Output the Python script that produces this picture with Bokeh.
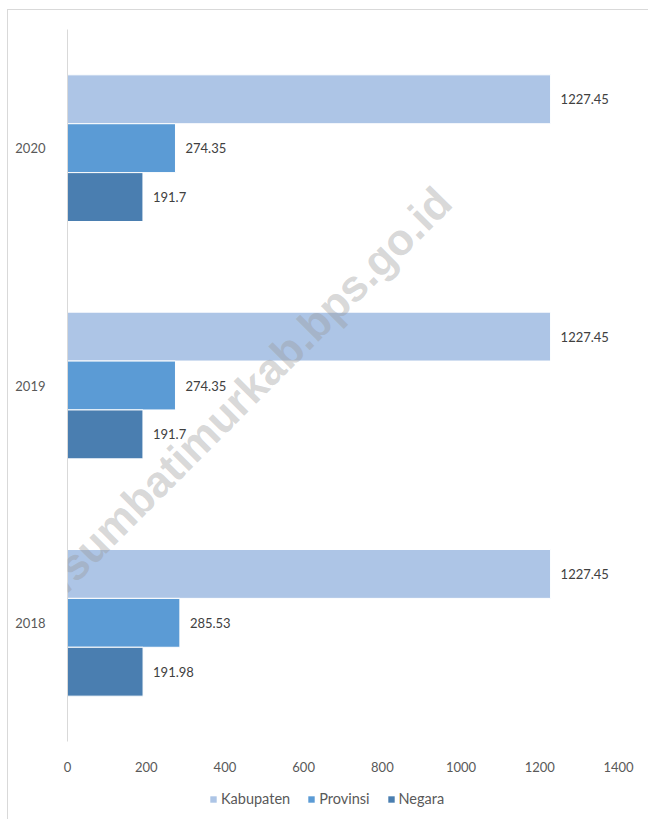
import math
from bokeh.plotting import figure
from bokeh.layouts import column
from bokeh.models import (FactorRange, Legend, LegendItem, Label, ColumnDataSource,
                          InlineStyleSheet)
from bokeh.transform import dodge
from bokeh.core.properties import value
from bokeh.embed import file_html
from bokeh.resources import INLINE

years = ["2018", "2019", "2020"]
series = ["Kabupaten", "Provinsi", "Negara"]
kabupaten = [1227.45, 1227.45, 1227.45]
provinsi = [285.53, 274.35, 274.35]
negara = [191.98, 191.7, 191.7]
x_ticks = [0, 200, 400, 600, 800, 1000, 1200, 1400]

colors = ["#adc5e6", "#5b9bd5", "#4a7eb0"]
offsets = [0.206, 0.0, -0.206]
bar_h = 0.206
FONT = "Lato"

src = ColumnDataSource(dict(
    year=years,
    Kabupaten=kabupaten, Provinsi=provinsi, Negara=negara,
    Kabupaten_t=[str(v) for v in kabupaten],
    Provinsi_t=[str(v) for v in provinsi],
    Negara_t=[str(v) for v in negara],
))

p = figure(frame_width=551, frame_height=712, output_backend="svg", toolbar_location=None,
           y_range=FactorRange(factors=years, range_padding=0),
           x_range=(0, 1400),
           min_border_left=67, min_border_right=30, min_border_top=29, min_border_bottom=40)

for s, c, off in zip(series, colors, offsets):
    p.hbar(y=dodge("year", off, range=p.y_range), right=s, left=0, height=bar_h,
           source=src, fill_color=c, line_color="white", line_width=1)
    p.text(y=dodge("year", off, range=p.y_range), x=s, text=s + "_t", source=src,
           x_offset=10, text_baseline="middle", text_align="left",
           text_font=value(FONT), text_font_size="13px", text_color="#404040")

wm = Label(x=343, y=1.289, text="https://sumbatimurkab.bps.go.id", angle=math.pi / 4,
           text_align="center", text_baseline="middle", text_font="Liberation Sans",
           text_font_style="bold", text_font_size="44px", text_color="#9a9a9a",
           text_alpha=0.4)
p.add_layout(wm)

p.xaxis.ticker = x_ticks
p.xaxis.axis_line_color = None
p.xaxis.major_tick_line_color = None
p.xaxis.minor_tick_line_color = None
p.xaxis.major_label_standoff = 14
p.xaxis.major_label_text_font = FONT
p.xaxis.major_label_text_font_size = "13px"
p.xaxis.major_label_text_color = "#595959"

p.yaxis.axis_line_color = "#d9d9d9"
p.yaxis.axis_line_width = 1
p.yaxis.major_tick_line_color = None
p.yaxis.minor_tick_line_color = None
p.yaxis.major_label_standoff = 16
p.yaxis.major_label_text_font = FONT
p.yaxis.major_label_text_font_size = "13px"
p.yaxis.major_label_text_color = "#595959"

p.xgrid.grid_line_color = None
p.ygrid.grid_line_color = None
p.outline_line_color = None
p.background_fill_color = "white"
p.border_fill_color = "white"

# legend strip below the chart (its bars are kept out of view; only the legend shows)
lf = figure(width=648, height=38, output_backend="svg", toolbar_location=None,
            x_range=(-10, -5), y_range=FactorRange(factors=years),
            x_axis_location=None, y_axis_location=None,
            min_border_left=0, min_border_right=0, min_border_top=0, min_border_bottom=0)
items = []
for s, c in zip(series, colors):
    r = lf.hbar(y="year", right=s, left=0, height=0, source=src,
                fill_color=c, line_color=None)
    items.append(LegendItem(label=s, renderers=[r]))
lf.xgrid.grid_line_color = None
lf.ygrid.grid_line_color = None
lf.outline_line_color = None
legend = Legend(items=items, orientation="horizontal", location=(142, 12),
                glyph_width=8, glyph_height=8, label_standoff=4, spacing=17,
                label_text_font=FONT, label_text_font_size="14.5px",
                label_text_color="#595959", border_line_color=None,
                background_fill_alpha=0, padding=0, margin=0)
lf.add_layout(legend)

frame_css = InlineStyleSheet(css="""
:host { position: relative; }
:host::after {
  content: ""; position: absolute; left: 7px; top: 9px; right: 0; bottom: 0;
  border-left: 1px solid #d9d9d9; border-top: 1px solid #d9d9d9;
  pointer-events: none;
}
""")
layout = column(p, lf, spacing=0, stylesheets=[frame_css])
open("out.html", "w").write(file_html(layout, INLINE))
